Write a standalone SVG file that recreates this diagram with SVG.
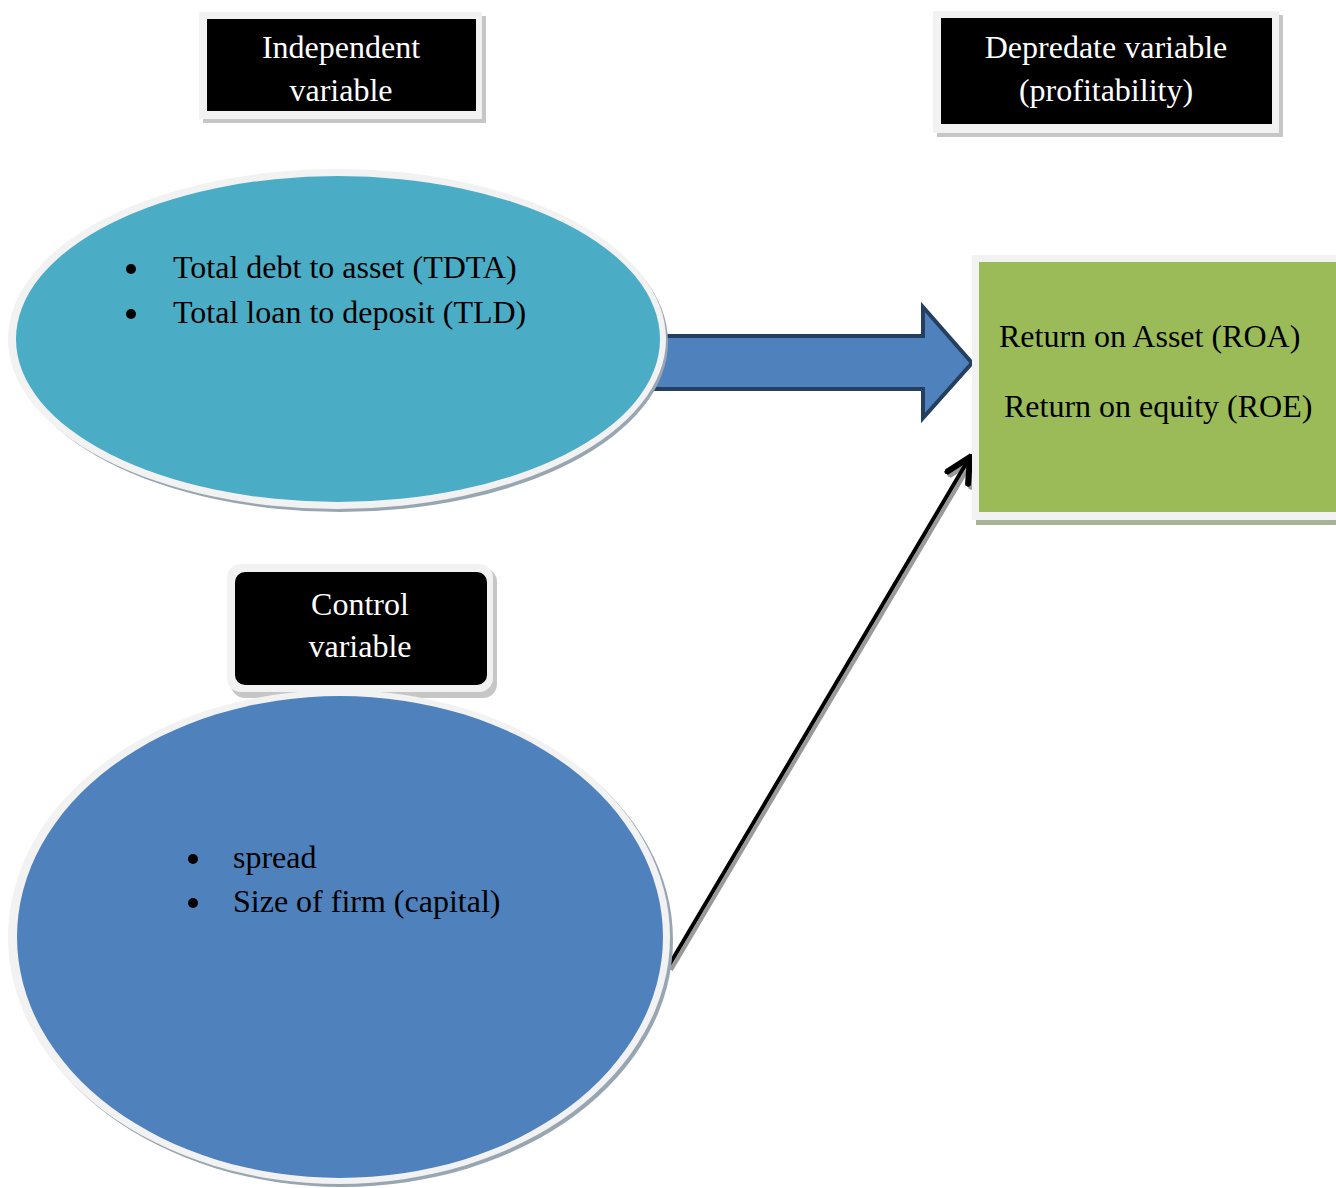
<svg xmlns="http://www.w3.org/2000/svg" width="1336" height="1188" viewBox="0 0 1336 1188">
<style>
.t{font-family:"Liberation Serif","Times New Roman",serif;font-size:32px}
.w{fill:#ffffff}
.k{fill:#000000}
.frame{fill:#f2f2f2}
.shadow{fill:#c6c6c6}
.eshadow{fill:#98a6b2}
</style>
<defs>
<marker id="open" markerUnits="userSpaceOnUse" markerWidth="30" markerHeight="30" refX="18" refY="10" orient="auto" viewBox="0 0 20 20">
<path d="M2,2 L18,10 L2,18" fill="none" stroke="#000" stroke-width="4" stroke-linecap="round" stroke-linejoin="miter"/>
</marker>
<marker id="openS" markerUnits="userSpaceOnUse" markerWidth="30" markerHeight="30" refX="18" refY="10" orient="auto" viewBox="0 0 20 20">
<path d="M2,2 L18,10 L2,18" fill="none" stroke="#999" stroke-width="4" stroke-linecap="round"/>
</marker>
</defs>
<rect width="1336" height="1188" fill="#ffffff"/>

<g id="connectors">
<path id="block-arrow" d="M652,336 L923,336 L923,307 L972,363 L923,418 L923,389 L652,389 Z" fill="#4f81bd" stroke="#243f60" stroke-width="4" stroke-linejoin="miter"/>
<line x1="671" y1="970" x2="973" y2="460" stroke="#9a9a9a" stroke-width="4" marker-end="url(#openS)"/>
<line x1="668" y1="967" x2="970" y2="457" stroke="#000" stroke-width="4" marker-end="url(#open)"/>
</g>

<g id="independent-label">
<rect class="shadow" x="203" y="16" width="283" height="107"/>
<rect class="frame" x="199" y="12" width="283" height="107"/>
<rect class="k" x="207" y="19" width="269" height="92"/>
<text class="t w" x="341" y="58" text-anchor="middle">Independent</text>
<text class="t w" x="341" y="101" text-anchor="middle">variable</text>
</g>

<g id="dependent-label">
<rect class="shadow" x="937" y="15" width="346" height="122"/>
<rect class="frame" x="933" y="11" width="346" height="122"/>
<rect class="k" x="941" y="18" width="331" height="106"/>
<text class="t w" x="1106" y="58" text-anchor="middle">Depredate variable</text>
<text class="t w" x="1106" y="101" text-anchor="middle">(profitability)</text>
</g>

<g id="independent-ellipse">
<ellipse class="eshadow" cx="340" cy="342" rx="328" ry="170"/>
<ellipse class="frame" cx="337" cy="339" rx="329" ry="170"/>
<ellipse cx="338" cy="339" rx="322" ry="163" fill="#4bacc6"/>
<circle cx="131" cy="269" r="5" fill="#000"/>
<circle cx="131" cy="314" r="5" fill="#000"/>
<text class="t k" x="173" y="278">Total debt to asset (TDTA)</text>
<text class="t k" x="173" y="323">Total loan to deposit (TLD)</text>
</g>

<g id="dependent-box">
<rect x="976" y="259" width="370" height="266" fill="#a8b39a"/>
<rect class="frame" x="972" y="255" width="370" height="265"/>
<rect x="979" y="262" width="360" height="250" fill="#9bbb59"/>
<text class="t k" x="999" y="347">Return on Asset (ROA)</text>
<text class="t k" x="1004" y="417">Return on equity (ROE)</text>
</g>

<g id="control-label">
<rect class="shadow" x="231" y="568" width="266" height="130" rx="14"/>
<rect class="frame" x="227" y="564" width="266" height="128" rx="14"/>
<rect class="k" x="235" y="572" width="252" height="113" rx="10"/>
<text class="t w" x="360" y="615" text-anchor="middle">Control</text>
<text class="t w" x="360" y="657" text-anchor="middle">variable</text>
</g>

<g id="control-ellipse">
<ellipse class="eshadow" cx="342" cy="940" rx="331" ry="247"/>
<ellipse class="frame" cx="339" cy="937" rx="331" ry="247"/>
<ellipse cx="340" cy="937" rx="323" ry="241" fill="#4f81bd"/>
<circle cx="193" cy="859" r="5" fill="#000"/>
<circle cx="193" cy="903" r="5" fill="#000"/>
<text class="t k" x="233" y="868">spread</text>
<text class="t k" x="233" y="912">Size of firm (capital)</text>
</g>
</svg>
